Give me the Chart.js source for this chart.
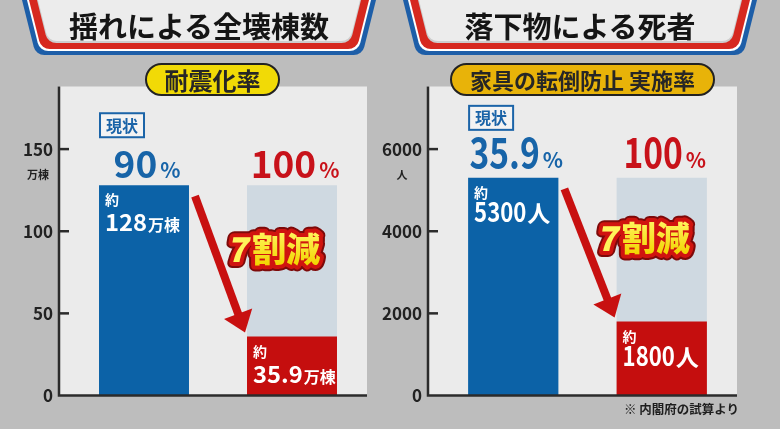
<!DOCTYPE html>
<html>
<head>
<meta charset="utf-8">
<script src="https://cdn.jsdelivr.net/npm/chart.js@4.4.1/dist/chart.umd.min.js"></script>
<style>
  body { margin: 0; width: 780px; height: 429px; overflow: hidden; position: relative;
    background: #bdbdbd; font-family: "Noto Sans CJK JP", "Noto Sans", sans-serif; }
  canvas { position: absolute; top: 0; }
  #leftChart { left: 0; }
  #rightChart { left: 370px; }
  .title { position: absolute; top: 7px; height: 36px; line-height: 36px; text-align: center;
    font-size: 29px; font-weight: bold; color: #151515; z-index: 2; }
  .pill { position: absolute; top: 63px; height: 29px; line-height: 29px; border: 2px solid #222;
    border-radius: 17px; text-align: center; font-weight: bold; color: #262626; z-index: 2; }
  .note { position: absolute; left: 624px; top: 399px; font-size: 12.5px; font-weight: bold;
    color: #1e1e1e; z-index: 2; }
</style>
</head>
<body>
<canvas id="leftChart" width="390" height="429"></canvas>
<canvas id="rightChart" width="410" height="429"></canvas>
<div class="title" style="left:22px;width:354px">揺れによる全壊棟数</div>
<div class="title" style="left:403px;width:354px">落下物による死者</div>
<div class="pill" style="left:145px;width:131px;background:#f1da06;font-size:24px">耐震化率</div>
<div class="pill" style="left:450px;width:261px;background:#e8b309;font-size:22px">家具の転倒防止 実施率</div>
<div class="note">※ 内閣府の試算より</div>
<script>
// left: buildings destroyed by shaking
const leftCategories = ["現状", "耐震化率100%"]
const leftRates = [90, 100]
const leftValues = [128, 35.9]
const leftGhost = [null, 128]
const leftTicks = [0, 50, 100, 150]
const leftUnit = "万棟"

// right: deaths from falling objects
const rightCategories = ["現状", "実施率100%"]
const rightRates = [35.9, 100]
const rightValues = [5300, 1800]
const rightGhost = [null, 5300]
const rightTicks = [0, 2000, 4000, 6000]
const rightUnit = "人"

const approxLabel = "約"
const cutLabel = ["7", "割減"]

const FONT = '"Noto Sans CJK JP", "Noto Sans", sans-serif'
const BLUE = "#0c62a7"
const RED = "#c50e0e"

function bannerPath(ctx, x0, x1, dx, dy) {
	const bot = 55 - dy
	const xl = (y) => x0 + dx + 0.25 * y
	const xr = (y) => x1 - dx - 0.25 * y
	ctx.beginPath()
	ctx.moveTo(xl(-10), -10)
	ctx.arcTo(xl(bot), bot, xr(bot), bot, 11)
	ctx.arcTo(xr(bot), bot, xr(-10), -10, 11)
	ctx.lineTo(xr(-10), -10)
	ctx.closePath()
}

// number (squeezed) + small unit
function valueText(ctx, x, y, num, unit, s) {
	ctx.font = "bold " + s.num + "px " + FONT
	const w1 = ctx.measureText(num).width * s.sx
	ctx.font = "bold " + s.unit + "px " + FONT
	const w2 = ctx.measureText(unit).width
	let x0 = x
	if (s.center) x0 = x - (w1 + s.gap + w2) / 2
	ctx.save()
	ctx.fillStyle = s.color
	ctx.textAlign = "left"
	ctx.textBaseline = "alphabetic"
	ctx.fillText(unit, x0 + w1 + s.gap, y)
	ctx.translate(x0, y)
	ctx.scale(s.sx, s.sy)
	ctx.font = "bold " + s.num + "px " + FONT
	ctx.fillText(num, 0, 0)
	ctx.restore()
}

const decor = {
	id: "decor",
	beforeDraw(chart, args, o) {
		const ctx = chart.ctx
		const ca = chart.chartArea
		ctx.save()
		const layers = [
			[0, 0, "#1d5ea8"],
			[5, 4, "#ffffff"],
			[7, 6, "#d6281f"],
			[15, 12, "#cdcdcd"],
			[16, 14, "#ececec"],
		]
		layers.forEach(([dx, dy, c]) => {
			bannerPath(ctx, o.banner[0], o.banner[1], dx, dy)
			ctx.fillStyle = c
			ctx.fill()
		})
		ctx.fillStyle = "#ebebeb"
		ctx.fillRect(ca.left - 12, ca.top - 1, ca.right - ca.left + 13, ca.bottom - ca.top + 1)
		ctx.restore()
	},
	afterDatasetsDraw(chart, args, o) {
		const ctx = chart.ctx
		const ca = chart.chartArea
		const yScale = chart.scales.y
		const main = chart.getDatasetMeta(0).data
		const ghost = chart.getDatasetMeta(1).data
		ctx.save()

		// axes drawn a little left of the plot, ticks pointing inward
		const ax = ca.left - 11
		ctx.strokeStyle = "#2b2b2b"
		ctx.lineWidth = 2.5
		ctx.beginPath()
		ctx.moveTo(ax, ca.top - 1)
		ctx.lineTo(ax, ca.bottom)
		ctx.lineTo(ca.right + 1, ca.bottom)
		ctx.stroke()
		yScale.ticks.forEach((t) => {
			if (t.value === 0) return
			const py = yScale.getPixelForValue(t.value)
			ctx.beginPath()
			ctx.moveTo(ax, py)
			ctx.lineTo(ax + 10, py)
			ctx.stroke()
		})
		const top = yScale.ticks[yScale.ticks.length - 1]
		ctx.font = "bold 17px " + FONT
		const tw = ctx.measureText(String(top.value)).width
		ctx.font = "bold 11px " + FONT
		ctx.fillStyle = "#222"
		ctx.textAlign = "center"
		ctx.fillText(o.unit, ca.left - 17 - tw / 2, yScale.getPixelForValue(top.value) + 30)

		const bars = main.map((b) => b.getProps(["x", "y", "width", "base"], true))
		const g = ghost[1].getProps(["x", "y", "width"], true)
		const st = o.style

		bars.forEach((b, i) => {
			const left = b.x - b.width / 2
			const barTop = i === 1 ? Math.min(b.y, g.y) : b.y
			const color = i === 0 ? "#1764a8" : "#c8121a"
			valueText(ctx, b.x + 3, barTop - st.pctGap, String(o.rates[i]), "%", {
				num: st.pct, unit: 21, sx: st.pctSx, sy: 1, gap: 3, color, center: true,
			})

			if (i === 0) {
				// status box
				const by = barTop - 72
				ctx.fillStyle = "#f3f3f3"
				ctx.fillRect(left + 1, by, 44, 24)
				ctx.strokeStyle = "#1b64a8"
				ctx.lineWidth = 2
				ctx.strokeRect(left + 1, by, 44, 24)
				ctx.fillStyle = "#1b64a8"
				ctx.font = "bold 16px " + FONT
				ctx.textAlign = "center"
				ctx.textBaseline = "middle"
				ctx.fillText(o.categories[0], left + 23, by + 12.5)
			}

			ctx.textBaseline = "alphabetic"
			ctx.fillStyle = "#ffffff"
			ctx.textAlign = "left"
			ctx.font = "bold 14px " + FONT
			ctx.fillText(approxLabel, left + 6, b.y + 20)
			valueText(ctx, left + 6, b.y + st.valGap, String(o.values[i]), o.unit, {
				num: st.val, unit: st.valUnit, sx: st.valSx, sy: st.valSy, gap: 1, color: "#ffffff", center: false,
			})
		})

		// arrow from current bar down to the target bar
		const b0 = bars[0]
		const b1 = bars[1]
		const sx = b0.x + b0.width / 2 + 6
		const sy = b0.y + 11
		const tx = b1.x - b1.width / 2 - 2
		const ty = b1.y - 4
		const len = Math.hypot(tx - sx, ty - sy)
		const ux = (tx - sx) / len
		const uy = (ty - sy) / len
		const hl = 20
		const hw = 15
		ctx.strokeStyle = "#c81010"
		ctx.fillStyle = "#c81010"
		ctx.lineWidth = 8
		ctx.lineCap = "butt"
		ctx.beginPath()
		ctx.moveTo(sx, sy)
		ctx.lineTo(tx - ux * (hl - 2), ty - uy * (hl - 2))
		ctx.stroke()
		ctx.beginPath()
		ctx.moveTo(tx, ty)
		ctx.lineTo(tx - ux * hl - uy * hw, ty - uy * hl + ux * hw)
		ctx.lineTo(tx - ux * hl + uy * hw, ty - uy * hl - ux * hw)
		ctx.closePath()
		ctx.fill()

		// reduction label
		const cx = g.x - 17
		const cy = g.y + 0.42 * (b1.y - g.y)
		ctx.font = "900 34px " + FONT
		const w7 = ctx.measureText(cutLabel[0]).width
		const wr = ctx.measureText(cutLabel[1]).width
		const x7 = cx - (w7 + wr + 2) / 2
		ctx.textBaseline = "middle"
		ctx.textAlign = "left"
		ctx.lineJoin = "round"
		const draw = (mode) => {
			ctx.save()
			ctx.translate(x7, cy)
			ctx.transform(1, 0, -0.18, 1, 0, 0)
			if (mode === "stroke") ctx.strokeText(cutLabel[0], 0, 0)
			else ctx.fillText(cutLabel[0], 0, 0)
			ctx.restore()
			if (mode === "stroke") ctx.strokeText(cutLabel[1], x7 + w7 + 2, cy)
			else ctx.fillText(cutLabel[1], x7 + w7 + 2, cy)
		}
		;[
			[12, "#7d0a0a"],
			[8, "#d0140f"],
		].forEach(([lw, c]) => {
			ctx.lineWidth = lw
			ctx.strokeStyle = c
			draw("stroke")
		})
		const grad = ctx.createLinearGradient(0, cy - 16, 0, cy + 16)
		grad.addColorStop(0, "#fff45a")
		grad.addColorStop(1, "#f2d400")
		ctx.fillStyle = grad
		draw("fill")
		ctx.restore()
	},
}

function makeChart(id, cfg) {
	return new Chart(document.getElementById(id).getContext("2d"), {
		type: "bar",
		data: {
			labels: cfg.categories,
			datasets: [
				{
					data: cfg.values,
					backgroundColor: [BLUE, RED],
					order: 1,
					grouped: false,
					barPercentage: 0.608,
					categoryPercentage: 1,
				},
				{
					data: cfg.ghost,
					backgroundColor: "#cfd9e1",
					order: 2,
					grouped: false,
					barPercentage: 0.608,
					categoryPercentage: 1,
				},
			],
		},
		options: {
			responsive: false,
			animation: false,
			layout: { padding: { top: 87.5, bottom: 33.5, left: 0, right: cfg.padRight } },
			plugins: {
				legend: { display: false },
				tooltip: { enabled: false },
				decor: {
					banner: cfg.banner,
					unit: cfg.unit,
					rates: cfg.rates,
					values: cfg.values,
					categories: cfg.categories,
					style: cfg.style,
				},
			},
			scales: {
				x: { display: false },
				y: {
					min: 0,
					max: cfg.max,
					grid: { display: false, drawTicks: false },
					border: { display: false },
					afterFit: (s) => {
						s.width = cfg.yWidth
					},
					afterBuildTicks: (s) => {
						s.ticks = cfg.ticks.map((v) => ({ value: v }))
					},
					ticks: {
						padding: 17,
						color: "#222",
						font: { family: FONT, size: 17, weight: "bold" },
						callback: (v) => String(v),
					},
				},
			},
		},
		plugins: [decor],
	})
}

makeChart("leftChart", {
	categories: leftCategories,
	rates: leftRates,
	values: leftValues,
	ghost: leftGhost,
	ticks: leftTicks,
	unit: leftUnit,
	max: 187.5,
	yWidth: 70,
	padRight: 24,
	banner: [22, 376],
	style: { pct: 37, pctSx: 1, pctGap: 7, val: 27, valUnit: 16, valSx: 0.88, valSy: 0.85, valGap: 46 },
})

makeChart("rightChart", {
	categories: rightCategories,
	rates: rightRates,
	values: rightValues,
	ghost: rightGhost,
	ticks: rightTicks,
	unit: rightUnit,
	max: 7500,
	yWidth: 69,
	padRight: 44,
	banner: [33, 387],
	style: { pct: 42, pctSx: 0.8, pctGap: 10, val: 27, valUnit: 23, valSx: 0.82, valSy: 1, valGap: 44 },
})
</script>
</body>
</html>
